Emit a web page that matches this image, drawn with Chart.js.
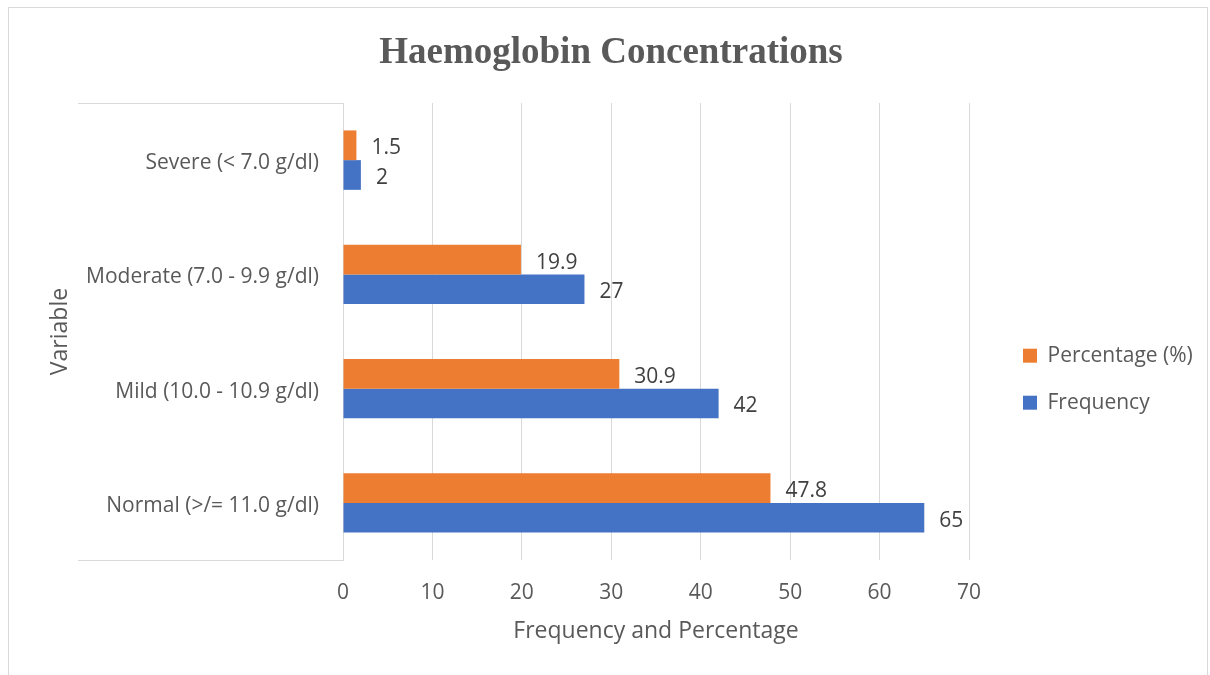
<!DOCTYPE html>
<html>
<head>
<meta charset="utf-8">
<title>Haemoglobin Concentrations</title>
<script src="https://cdn.jsdelivr.net/npm/chart.js@4"></script>
<style>
  html, body { margin: 0; padding: 0; background: #fff; }
  body { width: 1210px; height: 675px; position: relative; overflow: hidden; }
  .frame { position: absolute; left: 8px; top: 7px; width: 1200px; height: 680px; border: 1px solid #d9d9d9; box-sizing: border-box; pointer-events: none; }
  .wrap { position: absolute; left: 0; top: 0; width: 1210px; height: 675px; }
</style>
</head>
<body>
<div class="wrap"><canvas id="hbChart"></canvas></div>
<div class="frame"></div>
<script>
  // categories, top to bottom as in the source chart
  const categories = [
    'Severe (< 7.0 g/dl)',
    'Moderate (7.0 - 9.9 g/dl)',
    'Mild (10.0 - 10.9 g/dl)',
    'Normal (>/= 11.0 g/dl)'
  ];
  const percentage = [1.5, 19.9, 30.9, 47.8];
  const frequency = [2, 27, 42, 65];
  const xTicks = [0, 10, 20, 30, 40, 50, 60, 70];

  const ORANGE = '#ED7D31', BLUE = '#4472C4';
  const GRID = '#d9d9d9', TXT = '#595959';
  const SANS = '"Open Sans", "Liberation Sans", sans-serif';

  // value labels just past the end of each bar
  const valueLabels = {
    id: 'valueLabels',
    afterDatasetsDraw(chart) {
      const ctx = chart.ctx;
      ctx.save();
      ctx.font = '21px ' + SANS;
      ctx.fillStyle = '#404040';
      ctx.textBaseline = 'middle';
      ctx.textAlign = 'left';
      chart.data.datasets.forEach((ds, i) => {
        chart.getDatasetMeta(i).data.forEach((bar, j) => {
          ctx.fillText(String(ds.data[j]), bar.x + 15, bar.y + 3);
        });
      });
      ctx.restore();
    }
  };

  // the light box edges around the category labels
  const labelBox = {
    id: 'labelBox',
    beforeDatasetsDraw(chart) {
      const { ctx, chartArea: a, scales } = chart;
      const x0 = scales.y.left + 46;
      ctx.save();
      ctx.strokeStyle = GRID;
      ctx.lineWidth = 1;
      ctx.beginPath();
      ctx.moveTo(x0, a.top + 0.5); ctx.lineTo(a.left, a.top + 0.5);
      ctx.moveTo(x0, a.bottom + 0.5); ctx.lineTo(a.left, a.bottom + 0.5);
      ctx.stroke();
      ctx.restore();
    }
  };

  // legend clips to its measured box, which shaves the last glyph; give it a few px
  const legendRoom = {
    id: 'legendRoom',
    afterLayout(chart) {
      if (chart.legend) chart.legend.right += 12;
    }
  };

  new Chart(document.getElementById('hbChart'), {
    type: 'bar',
    data: {
      labels: categories,
      datasets: [
        { label: 'Percentage (%)', data: percentage, backgroundColor: ORANGE, borderWidth: 0 },
        { label: 'Frequency', data: frequency, backgroundColor: BLUE, borderWidth: 0 }
      ]
    },
    options: {
      indexAxis: 'y',
      responsive: true,
      maintainAspectRatio: false,
      animation: false,
      devicePixelRatio: 1,
      categoryPercentage: 0.52,
      barPercentage: 1,
      layout: { padding: { left: 32, right: 20, top: 0, bottom: 30 } },
      plugins: {
        title: {
          display: true,
          text: 'Haemoglobin Concentrations',
          color: TXT,
          font: { family: '"Liberation Serif", "Times New Roman", serif', size: 37, weight: 'bold' },
          padding: { top: 31, bottom: 27.6 }
        },
        legend: {
          position: 'right',
          // blank title only pushes the two entries down to where the source has them
          title: { display: true, text: ' ', font: { size: 12 }, padding: { top: 99, bottom: 0 } },
          labels: {
            color: TXT,
            font: { family: SANS, size: 21 },
            boxWidth: 14, boxHeight: 14,
            padding: 26
          }
        },
        tooltip: { enabled: false }
      },
      scales: {
        x: {
          min: 0, max: 70,
          afterBuildTicks: s => { s.ticks = xTicks.map(v => ({ value: v })); },
          afterFit: s => { s.height = 85; },
          grid: { color: GRID, lineWidth: 1, drawTicks: false },
          border: { display: false },
          ticks: { color: TXT, font: { family: SANS, size: 21 }, padding: 20 },
          title: { display: true, text: 'Frequency and Percentage', color: TXT, font: { family: SANS, size: 23 }, padding: { top: 8, bottom: 0 } }
        },
        y: {
          afterFit: s => { s.width = 311; },
          grid: { display: false, drawTicks: false },
          border: { display: true, color: GRID, width: 1 },
          ticks: { color: TXT, font: { family: SANS, size: 21 }, padding: 24, labelOffset: 3 },
          title: { display: true, text: 'Variable', color: TXT, font: { family: SANS, size: 23 }, padding: { top: 15, bottom: 0 } }
        },
        // empty axis on the right: just the gap between plot and legend
        gap: {
          type: 'linear',
          axis: 'y',
          position: 'right',
          afterFit: s => { s.width = 28; },
          grid: { display: false },
          border: { display: false },
          ticks: { display: false }
        }
      }
    },
    plugins: [labelBox, valueLabels, legendRoom]
  });
</script>
</body>
</html>
